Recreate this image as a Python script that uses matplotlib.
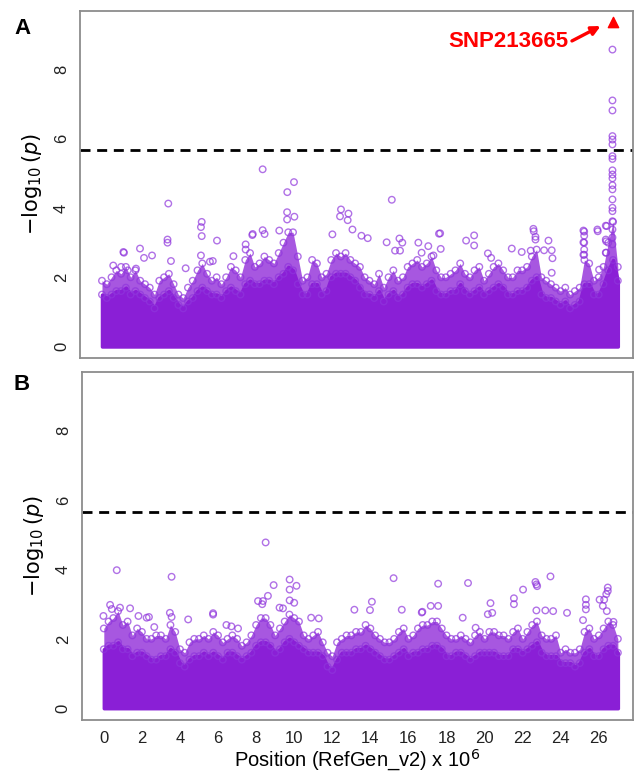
import numpy as np
import matplotlib.pyplot as plt

plt.rcParams['font.family'] = ['Liberation Sans', 'DejaVu Sans']

purple = '#8a1fd6'
ring = '#8f35dc'
threshold = 5.67

# genome grid (Mb) for the dense low-significance band
pos = np.arange(0, 27.01, 0.25)

# panel A: solid core height and upper edge of the dense cloud
core_a = [1.5, 1.4, 1.5, 1.6, 1.6, 1.7, 1.5, 1.6,
          1.5, 1.4, 1.3, 1.1, 1.4, 1.5, 1.6, 1.4,
          1.2, 1.1, 1.3, 1.4, 1.6, 1.7, 1.6, 1.5,
          1.5, 1.4, 1.6, 1.7, 1.6, 1.5, 1.8, 1.9,
          1.8, 1.8, 1.9, 1.9, 1.8, 2.0, 2.1, 2.3,
          2.2, 1.8, 1.5, 1.5, 1.8, 1.8, 1.5, 1.6,
          2.0, 2.1, 2.1, 2.1, 2.0, 1.9, 1.7, 1.5,
          1.5, 1.4, 1.6, 1.3, 1.5, 1.6, 1.4, 1.5,
          1.7, 1.8, 1.8, 1.7, 1.8, 1.9, 1.6, 1.5,
          1.5, 1.6, 1.6, 1.8, 1.6, 1.5, 1.6, 1.7,
          1.5, 1.6, 1.7, 1.8, 1.7, 1.5, 1.5, 1.6,
          1.6, 1.7, 1.9, 2.0, 1.5, 1.4, 1.4, 1.3,
          1.2, 1.3, 1.1, 1.2, 1.3, 1.8, 1.8, 1.5,
          1.5, 1.8, 2.2, 2.5, 1.9]
cloud_a = [1.9, 1.8, 2.0, 2.2, 2.1, 2.3, 2.0, 2.2,
           1.9, 1.8, 1.7, 1.5, 1.9, 2.0, 2.1, 1.8,
           1.5, 1.4, 1.7, 1.9, 2.2, 2.4, 2.1, 1.9,
           2.0, 1.8, 2.0, 2.3, 2.2, 2.0, 2.5, 2.7,
           2.3, 2.4, 2.6, 2.5, 2.4, 2.7, 3.0, 3.3,
           3.3, 2.6, 1.9, 2.0, 2.5, 2.4, 2.0, 2.1,
           2.5, 2.7, 2.6, 2.7, 2.5, 2.4, 2.3, 2.0,
           1.9, 1.8, 2.1, 1.7, 2.0, 2.2, 1.9, 2.0,
           2.3, 2.4, 2.5, 2.3, 2.4, 2.6, 2.2, 2.0,
           2.0, 2.1, 2.2, 2.4, 2.1, 2.0, 2.2, 2.3,
           1.9, 2.1, 2.3, 2.4, 2.2, 2.0, 2.0, 2.2,
           2.2, 2.3, 2.6, 2.8, 2.0, 1.9, 1.8, 1.7,
           1.6, 1.7, 1.5, 1.6, 1.7, 2.5, 2.4, 1.9,
           2.0, 2.3, 3.0, 3.6, 2.3]

# panel A: individual SNPs standing above the cloud
snp_a_x = [3.47, 5.22, 5.22, 3.43, 3.43, 6.02, 7.89, 1.12, 1.99, 2.20, 2.62, 3.61,
           4.38, 5.18, 5.80, 6.88, 7.52, 7.52, 0.59, 1.00, 1.35, 1.78, 1.15, 5.18,
           5.65, 8.41, 10.05, 9.70, 15.17, 9.69, 10.07, 9.69, 12.51, 12.90, 12.46,
           12.86, 13.11, 12.06, 13.58, 13.91, 14.90, 15.57, 15.72, 15.34, 15.60,
           7.87, 8.41, 8.51, 9.28, 16.56, 17.08, 16.73, 17.35, 17.64, 17.70,
           17.73, 19.06, 19.48, 19.48, 20.20, 20.37, 21.45, 21.97, 22.58, 22.60,
           22.69, 22.69, 22.44, 23.14, 23.37, 23.54, 23.58, 23.54, 25.24, 25.24,
           25.24, 25.24, 25.24, 25.95, 26.42, 26.39, 26.39, 26.02, 25.20, 25.20,
           25.20, 26.37, 26.37, 26.37, 25.93,
           26.72, 26.72, 26.72, 26.72, 26.72, 26.72, 26.72, 26.72, 26.72, 26.72,
           26.72, 26.72, 26.72, 26.72, 26.72, 26.72, 26.72, 26.72, 26.72, 26.72]
snp_a_y = [4.13, 3.60, 3.19, 3.09, 3.00, 3.06, 3.25, 2.73, 2.83, 2.56, 2.63, 2.47,
           2.26, 2.63, 2.47, 2.61, 2.95, 2.80, 2.34, 2.30, 2.20, 2.25, 2.71, 3.45,
           2.45, 5.12, 4.75, 4.46, 4.24, 3.88, 3.75, 3.67, 3.96, 3.84, 3.76,
           3.65, 3.38, 3.24, 3.20, 3.13, 3.01, 3.12, 3.00, 2.77, 2.77,
           3.22, 3.36, 3.25, 3.35, 3.00, 2.90, 2.71, 2.63, 3.26, 3.27,
           2.82, 3.06, 3.21, 2.92, 2.69, 2.56, 2.83, 2.73, 3.40, 3.33,
           3.17, 3.09, 2.77, 2.78, 3.06, 2.78, 2.55, 2.13, 3.32, 3.20,
           3.00, 2.80, 2.65, 3.33, 3.48, 3.04, 2.71, 2.22, 3.35, 3.01,
           2.65, 3.49, 3.09, 2.71, 3.38,
           8.58, 7.11, 6.82, 6.08, 5.98, 5.84, 5.50, 5.42, 5.09, 4.97,
           4.86, 4.66, 4.54, 4.25, 4.01, 3.91, 3.62, 3.38, 3.15, 2.95]

# lead SNP in panel A
lead_x, lead_y = 26.73, 9.37
lead_name = 'SNP213665'

# panel B
core_b = [1.7, 1.8, 1.8, 1.9, 1.7, 1.7, 1.5, 1.6,
          1.6, 1.5, 1.4, 1.4, 1.5, 1.5, 1.7, 1.6,
          1.3, 1.2, 1.4, 1.5, 1.5, 1.6, 1.5, 1.6,
          1.5, 1.4, 1.6, 1.6, 1.5, 1.4, 1.5, 1.6,
          1.8, 1.9, 1.9, 1.8, 1.6, 1.7, 1.9, 2.0,
          1.9, 1.8, 1.7, 1.6, 1.6, 1.6, 1.5, 1.2,
          1.1, 1.4, 1.6, 1.6, 1.6, 1.7, 1.7, 1.8,
          1.7, 1.6, 1.5, 1.4, 1.4, 1.5, 1.6, 1.7,
          1.5, 1.6, 1.6, 1.7, 1.7, 1.8, 1.8, 1.7,
          1.5, 1.5, 1.6, 1.6, 1.5, 1.4, 1.5, 1.6,
          1.6, 1.6, 1.6, 1.5, 1.5, 1.5, 1.7, 1.7,
          1.6, 1.7, 1.8, 1.9, 1.6, 1.5, 1.5, 1.5,
          1.3, 1.3, 1.3, 1.2, 1.3, 1.6, 1.7, 1.5,
          1.5, 1.7, 1.8, 1.8, 1.6]
cloud_b = [2.3, 2.5, 2.6, 2.8, 2.4, 2.5, 2.1, 2.3,
           2.2, 2.0, 2.0, 2.1, 2.1, 2.0, 2.4, 2.2,
           1.7, 1.6, 1.9, 2.0, 2.0, 2.1, 2.0, 2.2,
           2.1, 1.9, 2.0, 2.1, 2.0, 1.8, 1.9, 2.1,
           2.4, 2.6, 2.6, 2.4, 2.1, 2.3, 2.5, 2.7,
           2.6, 2.5, 2.1, 2.0, 2.1, 2.2, 1.9, 1.6,
           1.5, 1.9, 2.0, 2.1, 2.1, 2.2, 2.2, 2.4,
           2.3, 2.1, 2.0, 1.9, 1.9, 2.0, 2.2, 2.3,
           2.0, 2.1, 2.3, 2.4, 2.4, 2.5, 2.5, 2.3,
           2.1, 2.0, 2.0, 2.1, 2.0, 1.9, 2.1, 2.2,
           2.0, 2.2, 2.2, 2.1, 2.1, 2.0, 2.2, 2.3,
           2.0, 2.2, 2.4, 2.5, 2.1, 2.0, 2.0, 2.1,
           1.6, 1.7, 1.6, 1.6, 1.7, 2.2, 2.3, 2.0,
           2.1, 2.3, 2.5, 2.4, 2.0]

snp_b_x = [0.68, 3.56, 0.33, 0.42, 0.85, 1.38, -0.02, 1.82, 2.25, 3.47, 3.56, 4.43,
           5.74, 5.74, 2.37, 2.65, 6.44, 6.70, 7.05, 8.10, 8.50, 9.76, 9.76, 10.12,
           8.92, 8.62, 8.36, 8.32, 9.76, 10.00, 15.22, 17.56, 13.16, 14.08, 13.98,
           15.65, 16.70, 17.17, 17.56, 10.89, 11.29, 9.23, 9.41, 19.13, 23.46,
           22.67, 22.72, 22.76, 22.02, 20.31, 20.17, 20.40, 21.54, 21.54, 23.19,
           23.60, 24.33, 22.72, 25.32, 25.32, 25.32, 25.17, 26.47, 26.47, 26.39,
           26.04, 26.28, 26.21, 26.42, 26.77, 16.73, 18.85, 19.53]
snp_b_y = [3.98, 3.79, 2.98, 2.86, 2.90, 2.88, 2.66, 2.66, 2.61, 2.75, 2.63, 2.56,
           2.74, 2.70, 2.63, 2.34, 2.40, 2.36, 2.30, 3.09, 4.78, 3.71, 3.42, 3.53,
           3.55, 3.24, 3.09, 3.00, 3.11, 3.04, 3.75, 3.59, 2.84, 3.07, 2.83,
           2.84, 2.76, 2.95, 2.95, 2.61, 2.59, 2.90, 2.88, 3.61, 3.80,
           3.64, 3.57, 3.52, 3.42, 3.03, 2.71, 2.75, 3.17, 3.00, 2.82,
           2.80, 2.75, 2.82, 3.14, 2.98, 2.85, 2.54, 3.48, 3.38, 3.29,
           3.13, 3.13, 2.95, 2.80, 2.49, 2.78, 2.61, 2.32]

xticks = list(range(0, 27, 2))
yticks = [0, 2, 4, 6, 8]

fig = plt.figure(figsize=(6.35, 7.73), dpi=100)
ax_a = fig.add_axes([0.126, 0.537, 0.871, 0.449])
ax_b = fig.add_axes([0.129, 0.069, 0.868, 0.450])


def manhattan(ax, core, cloud, sx, sy):
    ax.fill_between(pos, 0, cloud, color=purple, alpha=0.75, lw=0)
    ax.fill_between(pos, 0, core, color=purple, lw=2.5, edgecolor=purple)
    ax.scatter(pos, cloud, s=22, facecolors='none', edgecolors=ring,
               linewidths=1.0, alpha=0.7)
    ax.scatter(pos, core, s=22, facecolors='none', edgecolors=ring,
               linewidths=1.0, alpha=0.7)
    ax.scatter(sx, sy, s=22, facecolors='none', edgecolors=ring,
               linewidths=1.0, alpha=0.7)
    ax.axhline(threshold, color='black', lw=2, dashes=(3.6, 2.4))
    ax.set_xlim(-1.15, 27.8)
    ax.set_ylim(-0.33, 9.7)
    ax.set_yticks(yticks)
    ax.set_yticklabels([str(t) for t in yticks], rotation=90, va='center')
    ax.tick_params(length=0, labelsize=12, colors='#222222', pad=8)
    for sp in ax.spines.values():
        sp.set_color('#8c8c8c')
        sp.set_linewidth(1.3)
    ax.set_ylabel(r'$-\log_{10}(\it{p})$', fontsize=15, labelpad=7)


manhattan(ax_a, core_a, cloud_a, snp_a_x, snp_a_y)
ax_a.set_xticks([])
ax_a.scatter([lead_x], [lead_y], marker='^', s=55, color='red', zorder=5)
ax_a.text(21.26, 8.82, lead_name, fontsize=16, fontweight='bold', color='red',
          ha='center', va='center')
ax_a.annotate('', xy=(26.1, 9.26), xytext=(24.6, 8.83),
              arrowprops=dict(arrowstyle='-|>', color='red', lw=2.4,
                              mutation_scale=13, shrinkA=0, shrinkB=0))

manhattan(ax_b, core_b, cloud_b, snp_b_x, snp_b_y)
ax_b.set_xticks(xticks)
ax_b.set_xticklabels([str(t) for t in xticks])
ax_b.tick_params(axis='x', pad=8)
ax_b.set_xlabel('Position (RefGen_v2) x 10$^{6}$', fontsize=14.5, labelpad=1)

fig.text(0.022, 0.963, 'A', fontsize=16, fontweight='bold', va='center')
fig.text(0.022, 0.502, 'B', fontsize=16, fontweight='bold', va='center')

fig.savefig('out.png', dpi=100)
